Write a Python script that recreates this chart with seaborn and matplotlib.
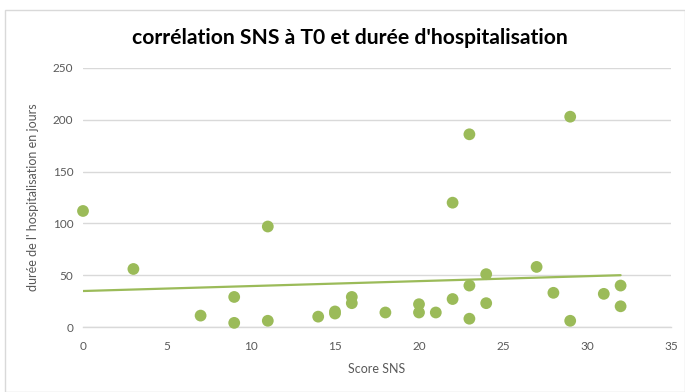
import numpy as np
import pandas as pd
import matplotlib
matplotlib.use("Agg")
import matplotlib.pyplot as plt
import matplotlib.patheffects as pe
import seaborn as sns

# Score SNS at T0 and length of hospital stay (days)
score_sns = [0, 3, 7, 9, 9, 11, 11, 14, 15, 15, 16, 16, 18, 20, 20, 21, 22, 22,
             23, 23, 23, 24, 24, 27, 28, 29, 29, 31, 32, 32]
duree_jours = [112, 56, 11, 29, 4, 97, 6, 10, 13, 15, 29, 23, 14, 22, 14, 14, 120, 27,
               186, 40, 8, 51, 23, 58, 33, 203, 6, 32, 40, 20]

x_ticks = [0, 5, 10, 15, 20, 25, 30, 35]
y_ticks = [0, 50, 100, 150, 200, 250]

title = "corrélation SNS à T0 et durée d'hospitalisation"
x_label = "Score SNS"
y_label = "durée de l' hospitalisation en jours"

df = pd.DataFrame({"score": score_sns, "duree": duree_jours})

sns.set_theme(style="white")
plt.rcParams["font.family"] = ["Lato", "DejaVu Sans"]

green = "#9BBB59"
grey_text = "#595959"
grid_col = "#D9D9D9"

fig = plt.figure(figsize=(6.85, 3.92), dpi=100)
ax = fig.add_axes([83 / 685, 1 - 327 / 392, (671 - 83) / 685, (327 - 68) / 392])

# outer chart frame
fig.patches.append(plt.Rectangle((5 / 685, 0.0), 1 - 5 / 685, 1 - 10 / 392,
                                 transform=fig.transFigure, fill=False,
                                 edgecolor="#D9D9D9", linewidth=1.0))

# linear trend over the observed score range
slope, intercept = np.polyfit(df["score"], df["duree"], 1)
x_fit = np.array([df["score"].min(), df["score"].max()])
sns.lineplot(x=x_fit, y=intercept + slope * x_fit, ax=ax, color=green,
             linewidth=1.6, zorder=2)

pts = sns.scatterplot(data=df, x="score", y="duree", ax=ax, color=green,
                      s=72, edgecolor="none", zorder=3)
pts.collections[0].set_path_effects([
    pe.SimplePatchShadow(offset=(0.6, -0.8), shadow_rgbFace="#888888", alpha=0.35),
    pe.Normal(),
])

ax.set_xlim(0, 35)
ax.set_ylim(0, 250)
ax.set_xticks(x_ticks)
ax.set_yticks(y_ticks)
ax.set_xticklabels([str(v) for v in x_ticks])
ax.set_yticklabels([str(v) for v in y_ticks])
ax.tick_params(axis="both", labelsize=8.5, labelcolor=grey_text)
ax.tick_params(axis="x", length=4, width=0.8, color=grid_col, direction="out", pad=6)
ax.tick_params(axis="y", length=0, pad=7)

ax.grid(axis="y", color=grid_col, linewidth=1.0)
ax.set_axisbelow(True)
for side in ["top", "right", "left"]:
    ax.spines[side].set_visible(False)
ax.spines["bottom"].set_color(grid_col)
ax.spines["bottom"].set_linewidth(1.0)
ax.spines["bottom"].set_zorder(1)

ax.set_xlabel(x_label, fontsize=9, color=grey_text, labelpad=8)
ax.set_ylabel(y_label, fontsize=9, color=grey_text, labelpad=10)
for c in ax.collections:
    c.set_clip_on(False)

fig.text(350 / 685, 1 - 38 / 392, title, ha="center", va="center",
         fontsize=15.2, fontweight="bold", color="#000000")

fig.savefig("out.png", dpi=100)
